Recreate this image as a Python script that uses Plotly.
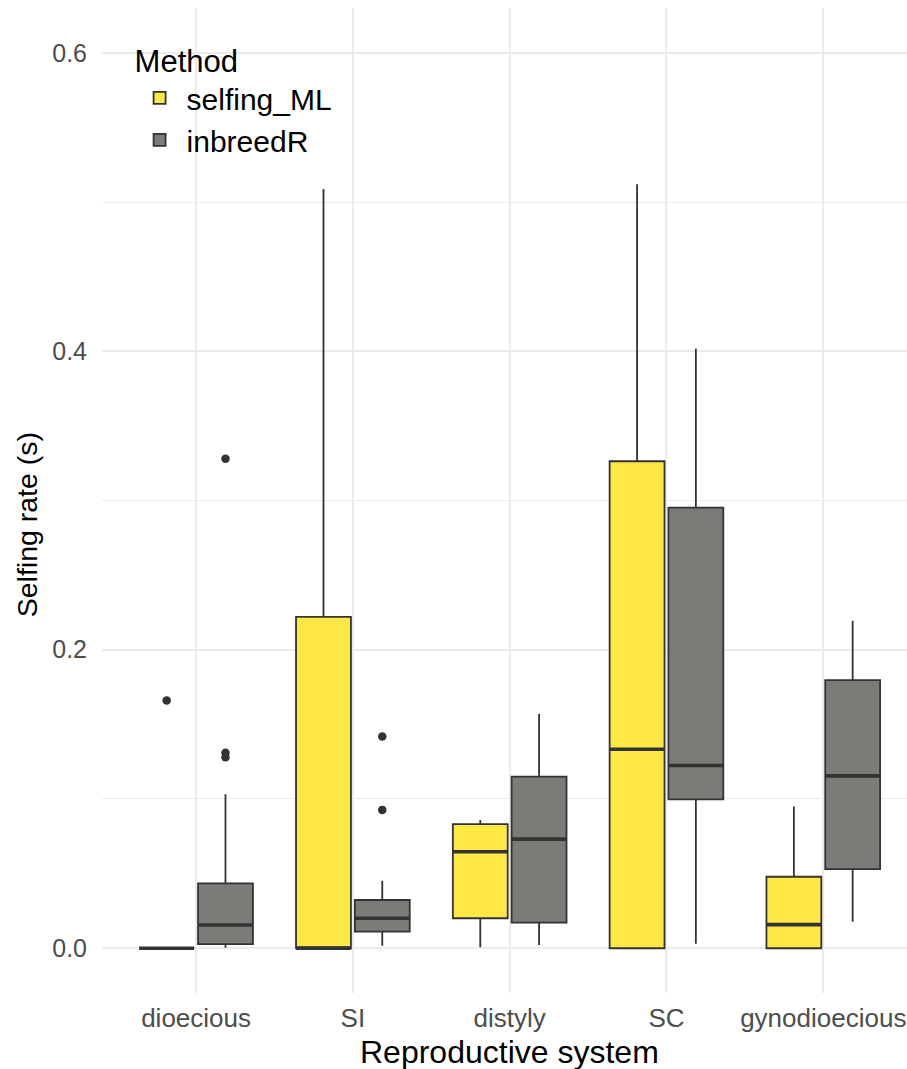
import plotly.graph_objects as go

# Reproductive systems on the x axis
categories = ["dioecious", "SI", "distyly", "SC", "gynodioecious"]
methods = ["selfing_ML", "inbreedR"]

# Box statistics per reproductive system, selfing_ML
ml_lower = [0.0, 0.0, 0.0007, 0.0, 0.0]
ml_q1 = [0.0, 0.0, 0.0201, 0.0, 0.0]
ml_median = [0.0, 0.0, 0.0646, 0.1333, 0.0158]
ml_q3 = [0.0, 0.222, 0.0831, 0.3263, 0.0479]
ml_upper = [0.0, 0.5088, 0.086, 0.5119, 0.095]
ml_outliers = {"dioecious": [0.166]}

# Box statistics per reproductive system, inbreedR
ib_lower = [0.0003, 0.0017, 0.0022, 0.003, 0.0178]
ib_q1 = [0.0027, 0.0111, 0.0171, 0.0998, 0.053]
ib_median = [0.0156, 0.0201, 0.0731, 0.1224, 0.1155]
ib_q3 = [0.0435, 0.0323, 0.115, 0.2952, 0.1797]
ib_upper = [0.1032, 0.0452, 0.157, 0.4017, 0.2194]
ib_outliers = {"dioecious": [0.328, 0.131, 0.128], "SI": [0.1418, 0.0927]}

y_ticks = [0.0, 0.2, 0.4, 0.6]
y_ticktext = ["0.0", "0.2", "0.4", "0.6"]

fills = {"selfing_ML": "#FDE845", "inbreedR": "#7C7B77"}
edge = "#333333"
dodge = 0.1875
box_w = 0.35

series = {
    "selfing_ML": (ml_lower, ml_q1, ml_median, ml_q3, ml_upper, ml_outliers, -dodge),
    "inbreedR": (ib_lower, ib_q1, ib_median, ib_q3, ib_upper, ib_outliers, dodge),
}

fig = go.Figure()
for name in methods:
    lo, q1, med, q3, up, outl, off = series[name]
    xs = [i + off for i in range(len(categories))]
    fig.add_trace(go.Box(
        name=name, x=xs, q1=q1, median=med, q3=q3,
        lowerfence=lo, upperfence=up, width=box_w, whiskerwidth=0,
        boxpoints=False, fillcolor=fills[name],
        line=dict(color=edge, width=1.8),
        hoverinfo="skip",
    ))
    # thicker median bars drawn on top of each box
    for x, m in zip(xs, med):
        fig.add_trace(go.Scatter(
            x=[x - box_w / 2, x + box_w / 2], y=[m, m], mode="lines",
            line=dict(color=edge, width=3.6), showlegend=False, hoverinfo="skip",
        ))
    # outlying points
    ox, oy = [], []
    for cat, vals in outl.items():
        i = categories.index(cat)
        for v in vals:
            ox.append(i + off)
            oy.append(v)
    fig.add_trace(go.Scatter(
        x=ox, y=oy, mode="markers",
        marker=dict(color=edge, size=8.5, line=dict(width=0)),
        showlegend=False, hoverinfo="skip",
    ))

# axis titles, centred on the full panel width
fig.add_annotation(
    text="Reproductive system", xref="paper", yref="paper",
    x=0.506, y=-0.0596, xanchor="center", yanchor="middle",
    showarrow=False, font=dict(size=32, color="black"),
)
fig.add_annotation(
    text="Selfing rate (s)", xref="paper", yref="paper",
    x=-0.0932, y=0.4758, xanchor="center", yanchor="middle", textangle=-90,
    showarrow=False, font=dict(size=28.5, color="black"),
)

fig.update_layout(
    width=907, height=1069,
    margin=dict(l=102, r=0, t=8, b=76),
    paper_bgcolor="white", plot_bgcolor="white",
    font=dict(family="Liberation Sans, Arial, sans-serif", color="black"),
    showlegend=True,
    legend=dict(
        title=dict(text="Method", font=dict(size=31)),
        font=dict(size=30),
        x=0.038, y=0.976, xanchor="left", yanchor="top",
        bgcolor="rgba(0,0,0,0)", itemwidth=44, tracegroupgap=0,
    ),
    xaxis=dict(
        range=[-0.6, 4.534], tickmode="array",
        tickvals=list(range(len(categories))), ticktext=categories,
        showgrid=True, gridcolor="#EBEBEB", gridwidth=2.2,
        zeroline=False, showline=False, ticks="",
        tickfont=dict(size=26, color="#4D4D4D"), ticklabelstandoff=7,
    ),
    yaxis=dict(
        range=[-0.03, 0.63], tickmode="array",
        tickvals=y_ticks, ticktext=y_ticktext,
        showgrid=True, gridcolor="#EBEBEB", gridwidth=2.2,
        minor=dict(dtick=0.1, tick0=0, showgrid=True, gridcolor="#EBEBEB", gridwidth=1.1),
        zeroline=False, showline=False, ticks="",
        tickfont=dict(size=25, color="#4D4D4D"), ticklabelstandoff=14,
    ),
)

fig.write_html("out.html")
